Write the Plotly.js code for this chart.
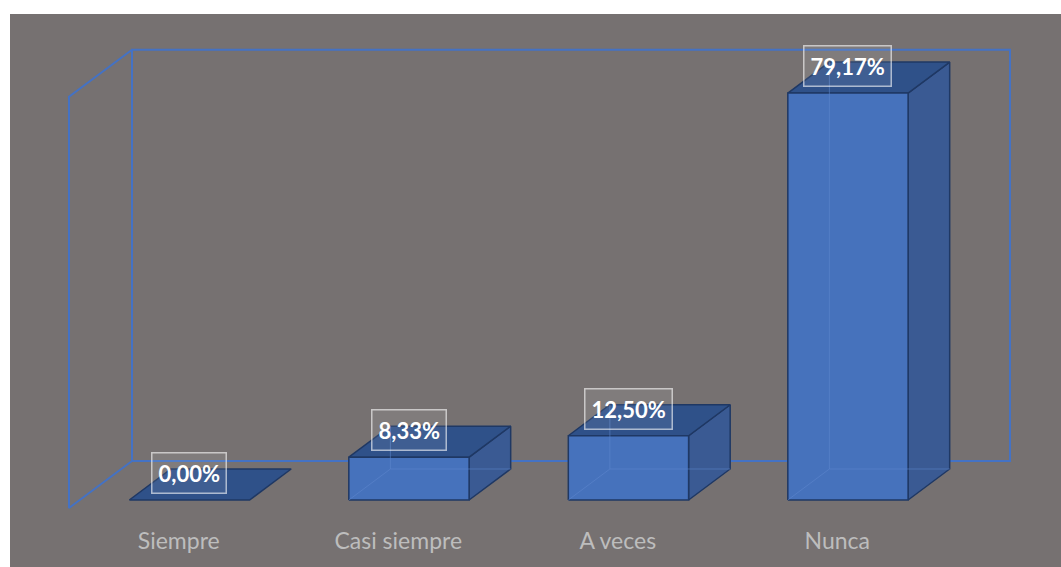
<!DOCTYPE html>
<html>
<head>
<meta charset="utf-8">
<script src="https://cdn.plot.ly/plotly-3.0.1.min.js"></script>
<style>
  html, body { margin: 0; padding: 0; background: #ffffff; }
  #wrap { position: absolute; left: 10px; top: 14px; width: 1051px; height: 553px; }
</style>
</head>
<body>
<div id="wrap"></div>
<script>
// ---- data ----
const categories = ['Siempre', 'Casi siempre', 'A veces', 'Nunca'];
const values = [0.00, 8.33, 12.50, 79.17];
const valueLabels = values.map(v => v.toFixed(2).replace('.', ',') + '%');
const axisMax = 80;

// ---- 3D projection settings (style/geometry) ----
const depthX = 0.287;   // full depth shift, x units
const depthY = 9.144;   // full depth shift, y units
const f0 = 0.17, f1 = 0.83; // bar depth span (fraction of depth)
const halfW = 0.274;

const frameColor = '#4472C4';
const edge = '#1F3864';
const frontFill = '#4672BC';
const topFill = '#2F5189';
const sideFill = '#3A5A93';

const traces = [];

// frame (back wall + left wall + floor side)
const x0 = -0.5, x1 = categories.length - 0.5;
traces.push({
  type: 'scatter', mode: 'lines', hoverinfo: 'skip', showlegend: false,
  x: [x0 + depthX, x1 + depthX, x1 + depthX, x0 + depthX, x0 + depthX, null,
      x0 + depthX, x0, x0, x0 + depthX],
  y: [depthY, depthY, axisMax + depthY, axisMax + depthY, depthY, null,
      axisMax + depthY, axisMax, 0, depthY],
  line: {color: frameColor, width: 2}
});

categories.forEach((c, i) => {
  const v = values[i];
  const cx = i + f0 * depthX;
  const L = cx - halfW, R = cx + halfW;
  const b = f0 * depthY, t = b + v;
  const ddx = (f1 - f0) * depthX, ddy = (f1 - f0) * depthY;
  // side face
  if (v > 0) {
    traces.push({
      type: 'scatter', mode: 'lines', fill: 'toself', fillcolor: sideFill,
      hoverinfo: 'skip', showlegend: false,
      x: [R, R + ddx, R + ddx, R, R], y: [b, b + ddy, t + ddy, t, b],
      line: {color: edge, width: 1.5}
    });
  }
  // top face
  traces.push({
    type: 'scatter', mode: 'lines', fill: 'toself', fillcolor: topFill,
    hoverinfo: 'skip', showlegend: false,
    x: [L, R, R + ddx, L + ddx, L], y: [t, t, t + ddy, t + ddy, t],
    line: {color: edge, width: 1.5}
  });
  if (v > 0) {
    // front face
    traces.push({
      type: 'scatter', mode: 'lines', fill: 'toself', fillcolor: frontFill,
      hoverinfo: 'skip', showlegend: false,
      x: [L, R, R, L, L], y: [b, b, t, t, b],
      line: {color: edge, width: 1.5}
    });
    // hidden edges seen through the face
    traces.push({
      type: 'scatter', mode: 'lines', hoverinfo: 'skip', showlegend: false,
      x: [L, L + ddx, R + ddx, null, L + ddx, L + ddx],
      y: [b, b + ddy, b + ddy, null, b + ddy, t + ddy],
      line: {color: 'rgba(95,135,205,0.55)', width: 1}
    });
  }
});

const annotations = categories.map((c, i) => ({
  x: i + f0 * depthX, y: f0 * depthY + values[i], yshift: 27,
  xref: 'x', yref: 'y', showarrow: false,
  text: '<b>' + valueLabels[i] + '</b>',
  font: {family: 'Lato, sans-serif', size: 22, color: '#ffffff'},
  bgcolor: 'rgba(255,255,255,0.08)',
  bordercolor: 'rgba(255,255,255,0.6)', borderwidth: 1.5, borderpad: 6
}));

const layout = {
  width: 1051, height: 553,
  margin: {l: 0, r: 0, t: 0, b: 42},
  paper_bgcolor: '#767171', plot_bgcolor: 'rgba(0,0,0,0)',
  showlegend: false,
  xaxis: {
    range: [-0.76879, 4.01936], tickmode: 'array',
    tickvals: categories.map((c, i) => i), ticktext: categories,
    showgrid: false, zeroline: false, showline: false, ticks: '',
    tickfont: {family: 'Lato, sans-serif', size: 23, color: '#bdbdbd'},
    fixedrange: true
  },
  yaxis: {
    range: [-3.3072, 96.11], visible: false, showgrid: false, zeroline: false,
    fixedrange: true
  },
  annotations: annotations
};

Plotly.newPlot('wrap', traces, layout, {displayModeBar: false, staticPlot: true});
</script>
</body>
</html>
